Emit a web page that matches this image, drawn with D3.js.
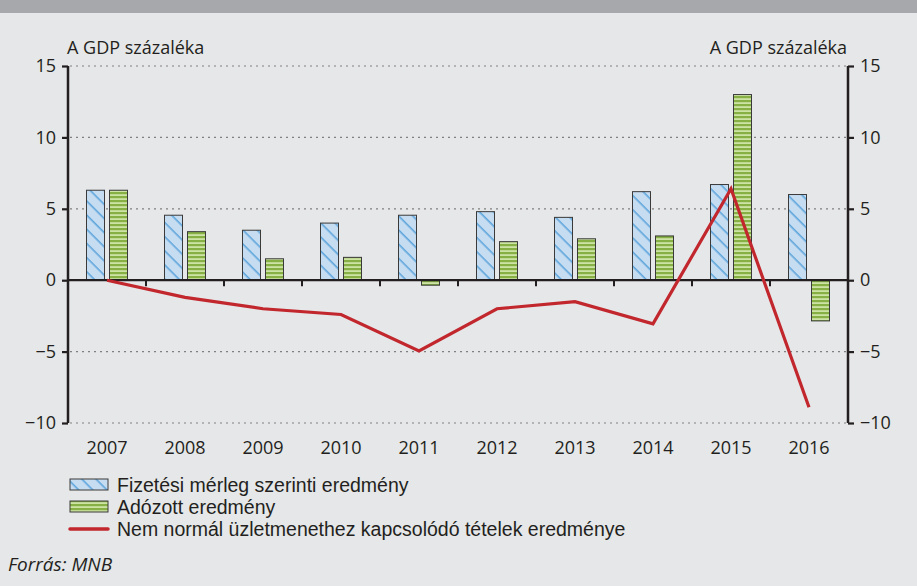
<!DOCTYPE html>
<html><head><meta charset="utf-8">
<script src="https://cdn.jsdelivr.net/npm/d3@7"></script>
<style>
html,body{margin:0;padding:0;background:#e6e7e8;}
svg{display:block;font-family:"Open Sans",sans-serif;}
</style></head>
<body>
<svg id="c" width="917" height="586"></svg>
<script>
const years = ["2007","2008","2009","2010","2011","2012","2013","2014","2015","2016"];
const fizetesi = [6.3, 4.55, 3.5, 4.0, 4.55, 4.8, 4.4, 6.2, 6.7, 6.0];
const adozott = [6.3, 3.4, 1.5, 1.6, -0.35, 2.7, 2.9, 3.1, 13.0, -2.85];
const nemNormal = [0, -1.2, -2.0, -2.4, -4.95, -2.0, -1.5, -3.05, 6.4, -8.9];
const yTicks = [-10, -5, 0, 5, 10, 15];
const axisTitle = "A GDP százaléka";
const legendLabels = ["Fizetési mérleg szerinti eredmény", "Adózott eredmény", "Nem normál üzletmenethez kapcsolódó tételek eredménye"];
const source = "Forrás: MNB";

const svg = d3.select("#c");
const ink = "#231f20";
const FS = 18;
const L = 68, R = 848;
const x = d3.scaleBand().domain(years).range([L, R]);
const y = d3.scaleLinear().domain([-10, 15]).range([423, 66]);

// background + header band
svg.append("rect").attr("width", 917).attr("height", 586).attr("fill", "#e6e7e8");
svg.append("rect").attr("width", 917).attr("height", 13).attr("fill", "#a7a8ab");

// patterns
const defs = svg.append("defs");
const pb = defs.append("pattern").attr("id", "pBlue").attr("patternUnits", "userSpaceOnUse")
  .attr("width", 10).attr("height", 10).attr("patternTransform", "rotate(45)");
pb.append("rect").attr("width", 10).attr("height", 10).attr("fill", "#c6dcf0");
pb.append("rect").attr("x", 0).attr("y", 0).attr("width", 10).attr("height", 1.6).attr("fill", "#5fa6dc");
const pg = defs.append("pattern").attr("id", "pGreen").attr("patternUnits", "userSpaceOnUse")
  .attr("width", 10).attr("height", 4);
pg.append("rect").attr("width", 10).attr("height", 4).attr("fill", "#cde3a6");
pg.append("rect").attr("width", 10).attr("height", 2.2).attr("fill", "#86b043");

// gridlines
svg.append("g").selectAll("line").data(yTicks.filter(d => d !== 0)).join("line")
  .attr("x1", L + 2).attr("x2", R - 2).attr("y1", d => y(d)).attr("y2", d => y(d))
  .attr("stroke", "#808080").attr("stroke-width", 1.2).attr("stroke-dasharray", "2,4");

// bars
const bw = 18, gap = 5;
const cx = d => x(d) + x.bandwidth() / 2;
svg.append("g").selectAll("rect").data(years).join("rect")
  .attr("x", (d) => cx(d) - gap / 2 - bw)
  .attr("y", (d, i) => y(Math.max(0, fizetesi[i])))
  .attr("width", bw)
  .attr("height", (d, i) => Math.abs(y(fizetesi[i]) - y(0)))
  .attr("fill", "url(#pBlue)").attr("stroke", "#3a3a3a").attr("stroke-width", 1);
svg.append("g").selectAll("rect").data(years).join("rect")
  .attr("x", (d) => cx(d) + gap / 2)
  .attr("y", (d, i) => y(Math.max(0, adozott[i])))
  .attr("width", bw)
  .attr("height", (d, i) => Math.abs(y(adozott[i]) - y(0)))
  .attr("fill", "url(#pGreen)").attr("stroke", "#3a3a3a").attr("stroke-width", 1);

// zero axis with category ticks
svg.append("line").attr("x1", L).attr("x2", R).attr("y1", y(0)).attr("y2", y(0))
  .attr("stroke", ink).attr("stroke-width", 2.2);
svg.append("g").selectAll("line").data(years.slice(1)).join("line")
  .attr("x1", d => x(d)).attr("x2", d => x(d)).attr("y1", y(0)).attr("y2", y(0) + 6)
  .attr("stroke", ink).attr("stroke-width", 2);

// x labels
svg.append("g").selectAll("text").data(years).join("text")
  .attr("x", d => cx(d)).attr("y", 454).attr("text-anchor", "middle")
  .attr("font-size", FS).attr("fill", ink).text(d => d);

// y axes
const fmt = d => d < 0 ? "\u2212" + Math.abs(d) : String(d);
const gl = svg.append("g").attr("transform", `translate(${L},0)`)
  .call(d3.axisLeft(y).tickValues(yTicks).tickSize(6).tickPadding(6).tickFormat(fmt));
const gr = svg.append("g").attr("transform", `translate(${R},0)`)
  .call(d3.axisRight(y).tickValues(yTicks).tickSize(6).tickPadding(6).tickFormat(fmt));
[gl, gr].forEach(g => {
  g.select(".domain").attr("stroke", ink).attr("stroke-width", 2.5).attr("d", `M0,${y(15)}V${y(-10)}`);
  g.selectAll(".tick line").attr("stroke", ink).attr("stroke-width", 2.2);
  g.selectAll(".tick text").attr("font-size", FS).attr("fill", ink)
    .attr("font-family", "'Open Sans',sans-serif");
});

// axis titles
svg.append("text").attr("x", 67).attr("y", 54).attr("font-size", FS).attr("fill", ink).text(axisTitle);
svg.append("text").attr("x", 847).attr("y", 54).attr("text-anchor", "end").attr("font-size", FS).attr("fill", ink).text(axisTitle);

// line
svg.append("path").datum(nemNormal)
  .attr("d", d3.line().x((d, i) => cx(years[i])).y(d => y(d)))
  .attr("fill", "none").attr("stroke", "#c1272d").attr("stroke-width", 3.2)
  .attr("stroke-linejoin", "miter");

// legend
const lg = svg.append("g");
const ly = [485, 507, 529];
lg.append("rect").attr("x", 70).attr("y", ly[0] - 6).attr("width", 38).attr("height", 11)
  .attr("fill", "url(#pBlue)").attr("stroke", "#3a3a3a").attr("stroke-width", 1);
lg.append("rect").attr("x", 70).attr("y", ly[1] - 6).attr("width", 38).attr("height", 11)
  .attr("fill", "url(#pGreen)").attr("stroke", "#3a3a3a").attr("stroke-width", 1);
lg.append("line").attr("x1", 70).attr("x2", 108).attr("y1", ly[2]).attr("y2", ly[2])
  .attr("stroke", "#c1272d").attr("stroke-width", 3.5).attr("stroke-linecap", "round");
lg.selectAll("text").data(legendLabels).join("text")
  .attr("x", 117).attr("y", (d, i) => ly[i] + 6.5)
  .attr("font-family", "'Liberation Sans',Arial,sans-serif")
  .attr("font-size", 19.5).attr("fill", ink).text(d => d);

svg.append("text").attr("x", 8).attr("y", 571).attr("font-size", 19).attr("font-style", "italic")
  .attr("fill", ink).text(source);
</script>
</body></html>
